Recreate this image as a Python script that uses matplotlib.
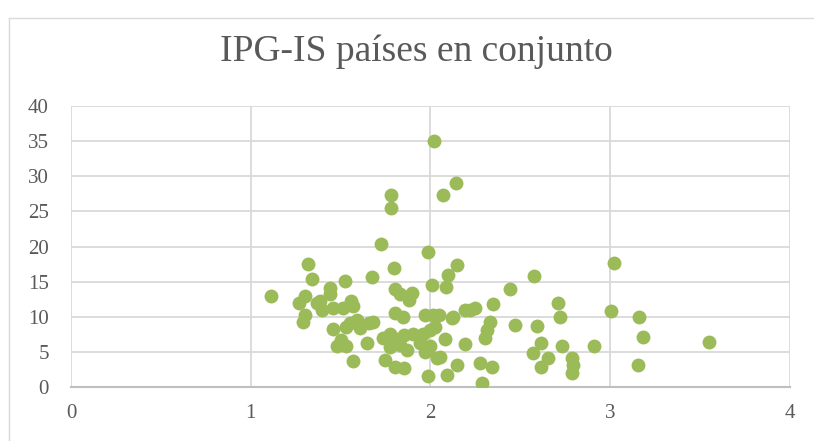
import matplotlib.pyplot as plt
from matplotlib.lines import Line2D

# IPG (x) vs IS (y), one point per country-year
ipg = [1.11, 1.27, 1.30, 1.29, 1.30, 1.32, 1.34, 1.367, 1.385, 1.395,
       1.44, 1.44, 1.46, 1.46, 1.515, 1.525, 1.56, 1.57, 1.55, 1.59,
       1.53, 1.61, 1.66, 1.68, 1.675, 1.48, 1.50, 1.53, 1.645, 1.567,
       1.725, 1.778, 1.782, 1.795, 1.80, 1.83, 1.895, 1.88, 1.80, 1.845,
       1.737, 1.775, 1.812, 1.85, 1.905, 1.96, 1.997, 2.025, 1.775, 1.83,
       1.868, 1.94, 1.978, 1.997, 1.97, 1.747, 1.80, 1.85, 2.034, 1.988,
       2.09, 2.146, 2.275, 2.34, 2.285, 2.192, 2.08, 2.053, 1.984, 2.02,
       2.071, 2.142, 2.146, 2.099, 2.086, 2.007, 1.97, 2.015, 2.05, 2.118,
       2.127, 2.19, 2.22, 2.25, 2.35, 2.44, 2.33, 2.313, 2.303, 2.47,
       2.59, 2.576, 2.708, 2.721, 3.006, 3.021, 3.162, 3.18, 3.55, 2.613,
       2.73, 2.91, 2.572, 2.655, 2.785, 2.795, 2.785, 2.613, 3.154]
is_ = [12.9, 11.9, 12.9, 9.3, 10.2, 17.5, 15.4, 11.9, 12.2, 10.9,
       14.1, 13.2, 11.2, 8.2, 11.3, 15.1, 12.3, 11.6, 9.1, 9.5,
       8.6, 8.4, 9.1, 9.3, 15.7, 5.8, 6.7, 5.9, 6.2, 3.7,
       20.3, 27.4, 25.5, 16.9, 13.9, 13.3, 13.4, 12.4, 10.5, 9.9,
       7.0, 7.6, 6.9, 7.4, 7.6, 7.6, 8.1, 8.6, 5.7, 6.0,
       5.3, 6.2, 5.3, 5.8, 5.0, 3.8, 2.9, 2.7, 4.1, 1.5,
       1.7, 3.2, 3.4, 2.8, 0.6, 6.1, 6.9, 4.3, 19.2, 35.0,
       27.4, 29.0, 17.4, 15.9, 14.2, 14.5, 10.3, 10.3, 10.3, 9.8,
       10.0, 10.9, 11.0, 11.2, 11.8, 13.9, 9.3, 8.1, 7.0, 8.8,
       8.7, 15.8, 12.0, 9.9, 10.8, 17.7, 9.9, 7.1, 6.4, 6.2,
       5.8, 5.8, 4.8, 4.2, 4.2, 3.1, 2.0, 2.9, 3.2]

x_ticks = [0, 1, 2, 3, 4]
y_ticks = [0, 5, 10, 15, 20, 25, 30, 35, 40]

plt.rcParams['font.family'] = ['Liberation Serif', 'DejaVu Serif']

fig = plt.figure(figsize=(8.14, 4.41), dpi=100)
ax = fig.add_axes([0.0872, 0.1224, 0.8833, 0.6372])

ax.scatter(ipg, is_, s=100, color='#9BBB59', linewidths=0, zorder=3)

ax.set_xlim(0, 4)
ax.set_ylim(0, 40)
ax.set_xticks(x_ticks)
ax.set_yticks(y_ticks)
ax.grid(True, color='#D9D9D9', linewidth=1.3, zorder=0)
ax.set_axisbelow(True)
for side in ['left', 'right', 'top']:
    ax.spines[side].set_visible(False)
ax.spines['bottom'].set_color('#BFBFBF')
ax.spines['bottom'].set_linewidth(1.5)
ax.tick_params(length=0, labelsize=15, labelcolor='#595959', pad=12)
ax.tick_params(axis='y', pad=16)

fig.text(0.512, 0.882, 'IPG-IS países en conjunto', ha='center', va='center',
         fontsize=27, color='#595959')

# chart frame (left and top edges)
fig.add_artist(Line2D([0.011, 0.011], [0.0, 0.96], transform=fig.transFigure,
                      color='#D9D9D9', linewidth=1))
fig.add_artist(Line2D([0.011, 1.0], [0.96, 0.96], transform=fig.transFigure,
                      color='#D9D9D9', linewidth=1))

fig.savefig('out.png', dpi=100)
